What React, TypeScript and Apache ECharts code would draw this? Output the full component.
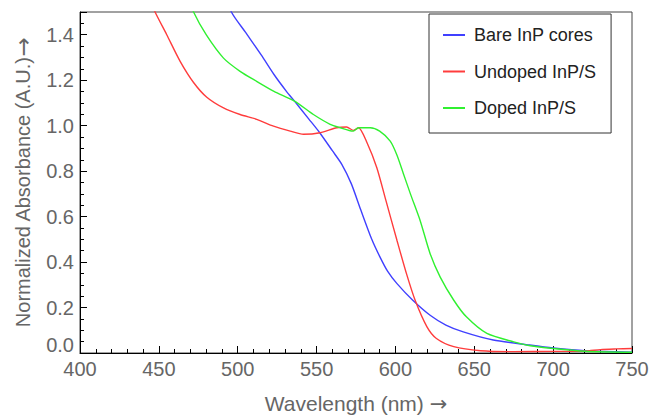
import React, { useEffect, useRef } from "react";
import * as echarts from "echarts";

// Wavelength (nm) and normalized absorbance
const bareWl = [490, 496, 505, 515, 523, 531, 536, 545, 552, 560, 566, 572, 578, 585, 590, 595, 601, 611, 622, 632, 643, 662, 685, 700, 720, 750];
const bareAbs = [1.62, 1.5, 1.41, 1.31, 1.225, 1.15, 1.108, 1.03, 0.969, 0.89, 0.83, 0.745, 0.63, 0.5, 0.425, 0.36, 0.305, 0.232, 0.166, 0.123, 0.093, 0.057, 0.035, 0.022, 0.01, 0.004];

const undopedWl = [440, 447.6, 455, 463.5, 472, 480.4, 491, 501.5, 512, 522.7, 533.3, 541.7, 552.3, 562.8, 569, 573.4, 576.6, 582, 588.2, 594, 601, 607, 612.5, 620, 626, 637, 654, 675, 700, 720, 730, 740, 750];
const undopedAbs = [1.62, 1.5, 1.4, 1.283, 1.19, 1.125, 1.078, 1.049, 1.028, 0.998, 0.976, 0.962, 0.969, 0.991, 0.994, 0.979, 0.991, 0.925, 0.815, 0.67, 0.495, 0.349, 0.232, 0.115, 0.064, 0.028, 0.01, 0.006, 0.007, 0.008, 0.015, 0.018, 0.02];

const dopedWl = [465, 472, 480, 491, 501.5, 512, 523, 536, 548, 558.6, 565, 573, 576.6, 584, 590, 596.7, 601, 605, 609.5, 615.7, 622, 628.4, 637, 645, 658, 675, 685.5, 700, 720, 750];
const dopedAbs = [1.62, 1.5, 1.4, 1.297, 1.239, 1.195, 1.151, 1.108, 1.049, 1.006, 0.991, 0.976, 0.991, 0.991, 0.976, 0.932, 0.87, 0.79, 0.7, 0.582, 0.437, 0.334, 0.232, 0.159, 0.086, 0.049, 0.032, 0.02, 0.008, 0.003];

const seriesNames = ["Bare InP cores", "Undoped InP/S", "Doped InP/S"];
const seriesColors = ["#4040ff", "#ff3c3c", "#30f030"];

const zip = (xs: number[], ys: number[]) => xs.map((x, i) => [x, ys[i]]);

export default function App() {
  const ref = useRef<HTMLDivElement>(null);

  useEffect(() => {
    document.body.style.margin = "0";
    if (!ref.current) return;
    const chart = echarts.init(ref.current, undefined, { renderer: "svg" });
    const font = "Liberation Sans, Arial, sans-serif";
    const datasets = [zip(bareWl, bareAbs), zip(undopedWl, undopedAbs), zip(dopedWl, dopedAbs)];
    const arrowRich = { a: { fontFamily: "DejaVu Sans, sans-serif", fontSize: 21, lineHeight: 21, color: "#666" } };
    chart.setOption({
      animation: false,
      backgroundColor: "#ffffff",
      grid: {
        left: 80,
        right: 19,
        top: 12,
        bottom: 63,
        containLabel: false,
        outerBoundsMode: "none",
        show: true,
        borderColor: "#444",
        borderWidth: 1,
        backgroundColor: "transparent",
      },
      legend: {
        orient: "vertical",
        left: 429,
        top: 14,
        data: seriesNames,
        icon: "rect",
        itemWidth: 22,
        itemHeight: 2,
        itemGap: 16.5,
        padding: [11, 15, 15, 14],
        borderColor: "#333",
        borderWidth: 1,
        backgroundColor: "#fff",
        selectedMode: false,
        textStyle: {
          fontFamily: font,
          fontSize: 18,
          color: "#222",
          lineHeight: 20,
          padding: [0, 0, 0, 4],
        },
      },
      xAxis: {
        type: "value",
        min: 400,
        max: 750,
        interval: 50,
        name: "Wavelength (nm) {a|→}",
        nameLocation: "middle",
        nameGap: 40,
        nameTextStyle: { fontFamily: font, fontSize: 21, lineHeight: 21, color: "#666", rich: arrowRich },
        axisLine: { show: true, onZero: false, lineStyle: { color: "#000", width: 1 } },
        axisTick: { show: true, inside: true, length: 7, lineStyle: { color: "#000" } },
        minorTick: { show: true, splitNumber: 5, length: 4, lineStyle: { color: "#000" } },
        splitLine: { show: false },
        axisLabel: { fontFamily: font, fontSize: 20, color: "#666", margin: 6 },
      },
      yAxis: {
        type: "value",
        min: 0,
        max: 1.5,
        interval: 0.2,
        name: "Normalized Absorbance (A.U.){a|→}",
        nameLocation: "middle",
        nameGap: 46,
        nameTextStyle: { fontFamily: font, fontSize: 20, color: "#666", rich: { a: { fontFamily: "DejaVu Sans, sans-serif", fontSize: 23, color: "#666" } } },
        axisLine: { show: true, lineStyle: { color: "#000", width: 1 } },
        axisTick: { show: true, inside: true, length: 7, lineStyle: { color: "#000" } },
        minorTick: { show: true, splitNumber: 4, length: 4, lineStyle: { color: "#000" } },
        splitLine: { show: false },
        axisLabel: {
          fontFamily: font,
          fontSize: 20,
          color: "#666",
          margin: 6,
          formatter: (v: number) => (v > 1.45 ? "" : v < 0.05 ? "{z|" + v.toFixed(1) + "}" : v.toFixed(1)),
          rich: {
            z: { fontFamily: font, fontSize: 20, color: "#666", padding: [0, 0, 16, 0] },
          },
        },
      },
      series: seriesNames.map((name, i) => ({
        name,
        type: "line",
        data: datasets[i],
        showSymbol: false,
        smooth: 0.25,
        clip: true,
        lineStyle: { color: seriesColors[i], width: 1.4 },
        itemStyle: { color: seriesColors[i] },
      })),
    });
    return () => chart.dispose();
  }, []);

  return <div ref={ref} style={{ width: 651, height: 416 }} />;
}
